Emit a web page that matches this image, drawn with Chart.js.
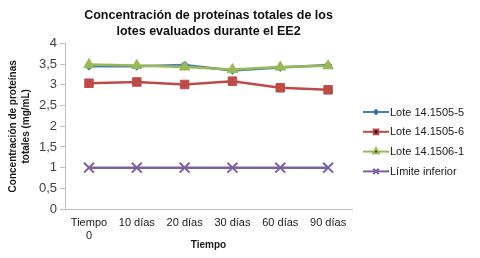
<!DOCTYPE html>
<html lang="es">
<head>
  <meta charset="UTF-8">
  <title>Concentración de proteínas totales</title>
  <script src="https://cdn.jsdelivr.net/npm/chart.js"></script>
  <style>
    html, body { margin: 0; padding: 0; background: #fff; }
    #wrap { width: 480px; height: 258px; }
  </style>
</head>
<body>
  <div id="wrap"><canvas id="proteinChart"></canvas></div>

  <script>
    // data
    const categories = [['Tiempo', '0'], '10 días', '20 días', '30 días', '60 días', '90 días'];
    const lote1505_5 = [3.45, 3.45, 3.48, 3.35, 3.42, 3.48];
    const lote1505_6 = [3.04, 3.07, 3.01, 3.09, 2.93, 2.88];
    const lote1506_1 = [3.49, 3.47, 3.43, 3.37, 3.43, 3.46];
    const limiteInferior = [1, 1, 1, 1, 1, 1];
    const yTicks = [0, 0.5, 1, 1.5, 2, 2.5, 3, 3.5, 4];

    const fontFam = 'Arial, "Liberation Sans", sans-serif';

    // legend drawn at the right, each entry = line + marker + label
    const sideLegend = {
      id: 'sideLegend',
      afterDraw(chart) {
        const c = chart.ctx;
        const x0 = 363, y0 = 112, gap = 19.8;
        chart.data.datasets.forEach((ds, i) => {
          const y = y0 + i * gap;
          c.save();
          c.strokeStyle = ds.borderColor;
          c.lineWidth = 2;
          c.beginPath();
          c.moveTo(x0, y);
          c.lineTo(x0 + 26, y);
          c.stroke();
          Chart.helpers.drawPoint(c, {
            pointStyle: ds.pointStyle,
            radius: ds.pointRadius * 0.55,
            borderWidth: 1.5
          }, x0 + 13, y);
          c.fillStyle = '#1a1a1a';
          c.font = '11px ' + fontFam;
          c.textBaseline = 'middle';
          c.fillText(ds.label, x0 + 27, y + 0.5);
          c.restore();
        });
      }
    };

    const ctx = document.getElementById('proteinChart').getContext('2d');
    const mkSet = (label, data, color, style, r, order) => ({
      label, data,
      borderColor: color,
      backgroundColor: color,
      pointBackgroundColor: color,
      pointBorderColor: color,
      pointStyle: style,
      pointRadius: r,
      pointHoverRadius: r,
      pointBorderWidth: style === 'crossRot' ? 2 : 1,
      borderWidth: 2.5,
      tension: 0,
      order
    });

    new Chart(ctx, {
      type: 'line',
      data: {
        labels: categories,
        datasets: [
          mkSet('Lote 14.1505-5', lote1505_5, '#4A7EBB', 'rectRot', 4, 4),
          mkSet('Lote 14.1505-6', lote1505_6, '#BE4B48', 'rect', 6, 3),
          mkSet('Lote 14.1506-1', lote1506_1, '#98B954', 'triangle', 6, 2),
          mkSet('Límite inferior', limiteInferior, '#7D60A0', 'crossRot', 7, 1)
        ]
      },
      options: {
        responsive: true,
        maintainAspectRatio: false,
        animation: false,
        layout: { padding: { left: 6, right: 128, top: 6, bottom: 7 } },
        scales: {
          x: {
            offset: true,
            // let the axis title sit close under the two-line first label
            afterFit: (axis) => { axis.height -= 7; },
            grid: { display: false, drawTicks: false },
            border: { color: '#BFBFBF', width: 1 },
            ticks: { color: '#1a1a1a', font: { family: fontFam, size: 11, lineHeight: 1.18 }, maxRotation: 0, padding: 7 },
            title: { display: true, text: 'Tiempo', color: '#1a1a1a', font: { family: fontFam, size: 10, weight: 'bold' }, padding: { top: -3, bottom: 0 } }
          },
          y: {
            min: 0, max: 4,
            afterBuildTicks: (axis) => { axis.ticks = yTicks.map(v => ({ value: v })); },
            grid: { drawOnChartArea: false, drawTicks: true, tickLength: 5, color: '#BFBFBF' },
            border: { color: '#BFBFBF', width: 1 },
            ticks: {
              color: '#404040',
              font: { family: fontFam, size: 13 },
              padding: 3,
              callback: (v) => String(v).replace('.', ',')
            },
            title: {
              display: true,
              text: ['Concentración de proteínas', 'totales (mg/mL)'],
              color: '#1a1a1a',
              font: { family: fontFam, size: 10, weight: 'bold', lineHeight: 1.35 },
              padding: { top: 0, bottom: 3 }
            }
          }
        },
        plugins: {
          legend: { display: false },
          tooltip: { enabled: false },
          title: {
            display: true,
            fullSize: false,
            text: ['Concentración de proteínas totales de los', 'lotes evaluados durante el EE2'],
            color: '#111',
            font: { family: fontFam, size: 12.5, weight: 'bold', lineHeight: 1.3 },
            padding: { top: 1, bottom: 4 }
          }
        }
      },
      plugins: [sideLegend]
    });
  </script>
</body>
</html>
